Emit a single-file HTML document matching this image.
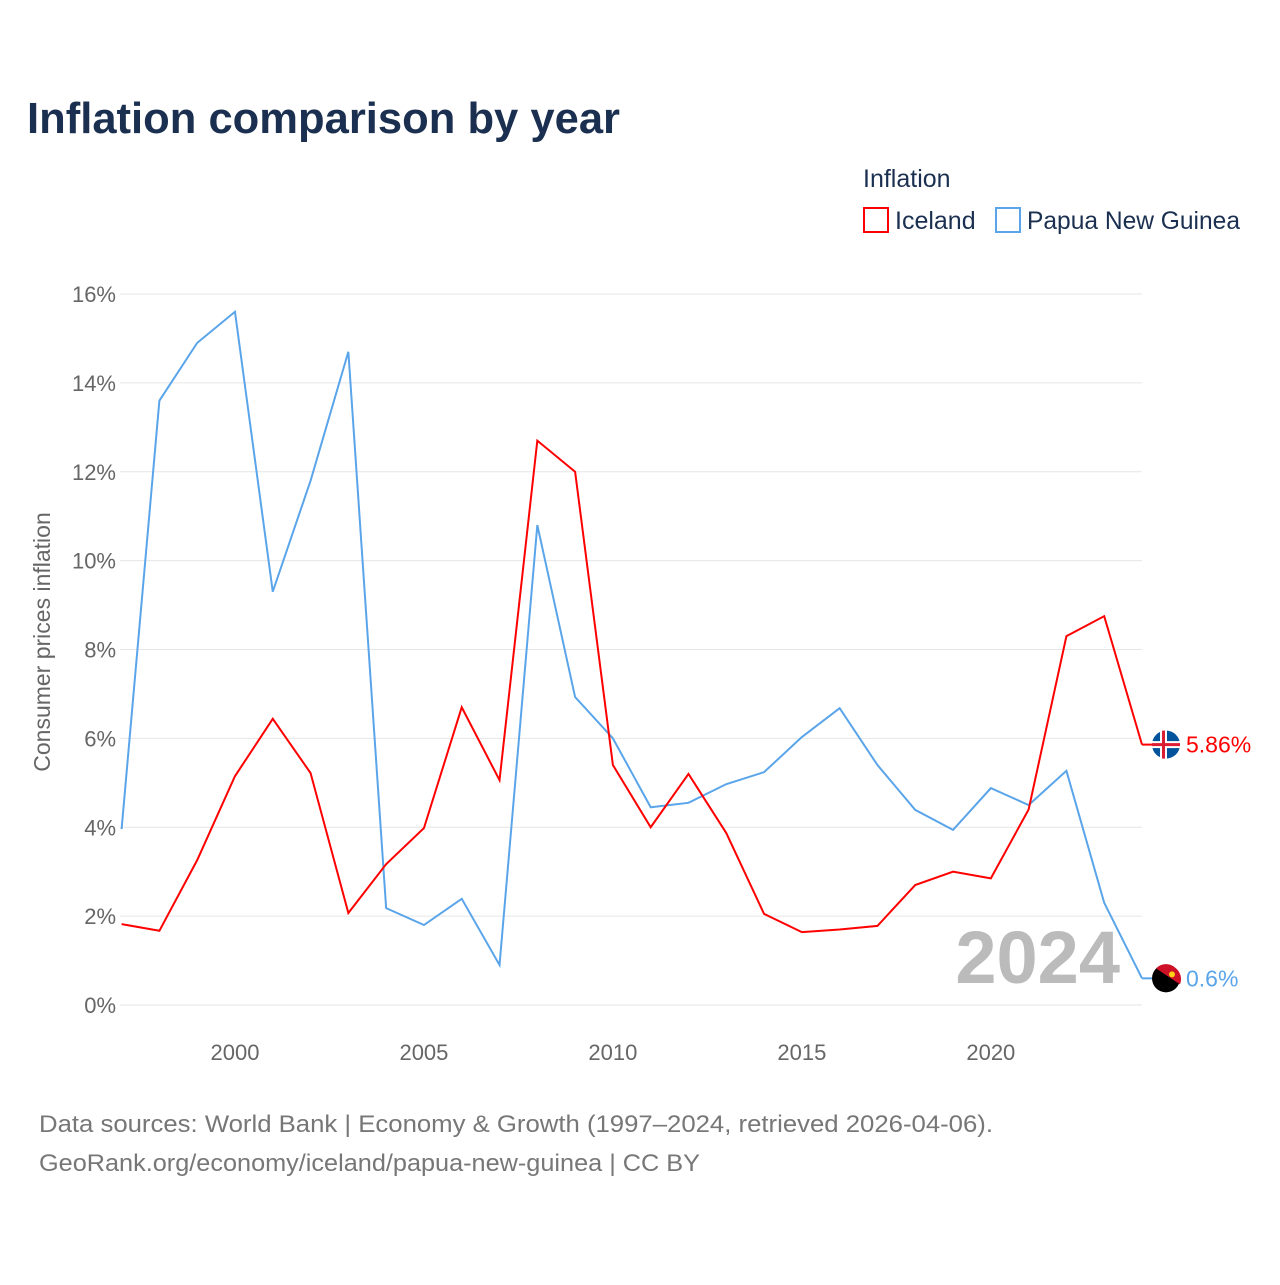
<!DOCTYPE html>
<html><head><meta charset="utf-8"><style>
body{margin:0;background:#fff;font-family:"Liberation Sans",sans-serif;}
svg text{font-family:"Liberation Sans",sans-serif;}
</style></head><body>
<svg width="1280" height="1280" viewBox="0 0 1280 1280">
<text x="27" y="133" font-size="44" font-weight="bold" fill="#1b3050" textLength="593" lengthAdjust="spacingAndGlyphs">Inflation comparison by year</text>
<text x="863" y="187" font-size="25" fill="#1b3050">Inflation</text>
<g><rect x="864" y="208" width="24" height="24" fill="none" stroke="#f00" stroke-width="2"/><text x="895" y="229" font-size="25" fill="#1b3050">Iceland</text></g>
<g><rect x="996" y="208" width="24" height="24" fill="none" stroke="#5aa5ea" stroke-width="2"/><text x="1027" y="229" font-size="25" fill="#1b3050" textLength="213" lengthAdjust="spacingAndGlyphs">Papua New Guinea</text></g>
<text transform="translate(50,642) rotate(-90)" text-anchor="middle" font-size="23" fill="#666">Consumer prices inflation</text>
<g id="grid"></g><g id="yt"></g><g id="xt"></g>
<text x="1120" y="983" text-anchor="end" font-size="74" font-weight="bold" fill="#bbb">2024</text>
<g id="lines"></g>
<text x="39" y="1132" font-size="24" fill="#777" textLength="954" lengthAdjust="spacingAndGlyphs">Data sources: World Bank | Economy &amp; Growth (1997–2024, retrieved 2026-04-06).</text>
<text x="39" y="1171" font-size="24" fill="#777" textLength="661" lengthAdjust="spacingAndGlyphs">GeoRank.org/economy/iceland/papua-new-guinea | CC BY</text>
</svg>
<script>
const years=[1997,1998,1999,2000,2001,2002,2003,2004,2005,2006,2007,2008,2009,2010,2011,2012,2013,2014,2015,2016,2017,2018,2019,2020,2021,2022,2023,2024];
const iceland=[1.82,1.67,3.26,5.15,6.44,5.22,2.07,3.17,3.98,6.7,5.06,12.7,12.0,5.4,4.0,5.2,3.87,2.05,1.64,1.7,1.78,2.7,3.0,2.85,4.4,8.3,8.75,5.86];
const png=[3.96,13.6,14.9,15.6,9.3,11.8,14.7,2.18,1.8,2.39,0.9,10.8,6.93,6.0,4.45,4.55,4.97,5.24,6.03,6.68,5.4,4.39,3.94,4.88,4.5,5.27,2.3,0.6];
const yTicks=[0,2,4,6,8,10,12,14,16];
const xTicks=[2000,2005,2010,2015,2020];
const NS="http://www.w3.org/2000/svg";
const X=y=>121.6+(y-1997)*(1142-121.6)/27;
const Y=v=>1005-v*(1005-294)/16;
function mk(t,a,p){const e=document.createElementNS(NS,t);for(const k in a)e.setAttribute(k,a[k]);p.appendChild(e);return e;}
const grid=document.getElementById('grid'),yt=document.getElementById('yt'),xt=document.getElementById('xt'),lines=document.getElementById('lines');
yTicks.forEach(v=>{
 const l=mk('line',{x1:120,x2:1142,y1:Y(v),y2:Y(v),stroke:'#e6e6e6','stroke-width':1},grid);
 
 
 const t=mk('text',{x:116,y:Y(v)+8,'text-anchor':'end','font-size':22,fill:'#666'},yt);t.textContent=v+'%';
 
 
});
xTicks.forEach(v=>{
 const t=mk('text',{x:X(v),y:1060,'text-anchor':'middle','font-size':22,fill:'#666'},xt);t.textContent=v;
 
 
});
function series(vals,col,name){
 const p=mk('polyline',{points:vals.map((v,i)=>X(years[i])+','+Y(v)).join(' '),fill:'none',stroke:col,'stroke-width':2},lines);
 
 
 const last=vals[vals.length-1],ly=Y(last);
 mk('line',{x1:1142,x2:1152,y1:ly,y2:ly,stroke:col,'stroke-width':2},lines);
 const c=mk('circle',{cx:1166,cy:ly,r:14,fill:name==='iceland'?'#02529c':'#000'},lines);
 
 
 if(name==='iceland'){mk('rect',{x:1152,y:ly-3.5,width:28,height:7,fill:'#fff'},lines);mk('rect',{x:1160,y:ly-14,width:7,height:28,fill:'#fff'},lines);mk('rect',{x:1152,y:ly-1.5,width:28,height:3,fill:'#dc1e35'},lines);mk('rect',{x:1162,y:ly-14,width:3,height:28,fill:'#dc1e35'},lines);}
 else{mk('path',{d:`M1156,${ly-10} L1180,${ly+6} A14,14 0 0 0 1176,${ly-10} A14,14 0 0 0 1156,${ly-10}Z`,fill:'#ce1126'},lines);mk('circle',{cx:1172,cy:ly-4,r:3,fill:'#fcd116'},lines);}
 const t=mk('text',{x:1186,y:ly+8,'font-size':23,fill:col},lines);t.textContent=(name==='iceland'?last.toFixed(2):last)+'%';
 
 
}
series(png,'#5aa5ea','papua-new-guinea');
series(iceland,'#ff0000','iceland');
</script>
</body></html>
